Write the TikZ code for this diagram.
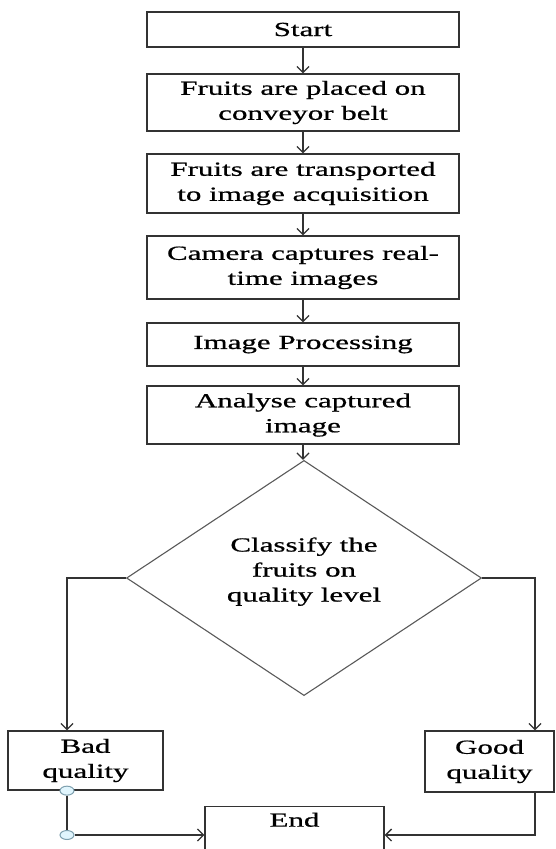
\documentclass[tikz,border=0pt]{standalone}
\usepackage{fontspec}
\setmainfont{Liberation Serif}[FakeStretch=1.55, FakeBold=0.8]
\usepackage{tikz}
\usetikzlibrary{arrows.meta,shapes.geometric}

\tikzset{
    stepbox/.style={draw=black!80, line width=1.3pt, rectangle, inner sep=0pt,
        minimum width=312pt, align=center, font=\fontsize{20}{25}\selectfont},
    decision/.style={draw=black!65, line width=1.1pt, diamond, inner sep=0pt,
        minimum width=355pt, minimum height=210pt, align=center,
        text depth=17pt, font=\fontsize{20}{25}\selectfont},
    joint/.style={draw=cyan!30!gray, fill=cyan!12, ellipse, line width=1pt,
        inner sep=0pt, minimum width=14pt, minimum height=9pt},
    arr/.style={draw=black!80, line width=1.3pt, -{Straight Barb[length=6pt,width=12pt]}},
    link/.style={draw=black!80, line width=1.3pt}
}

\begin{document}
\begin{tikzpicture}[x=1pt, y=1pt]
    \useasboundingbox (0,0) rectangle (556,-849);
    \clip (0,0) rectangle (556,-849);

    \node[stepbox, minimum height=35pt] (start) at (303,-29.5) {Start};
    \node[stepbox, minimum height=57pt] (placed) at (303,-102.5) {Fruits are placed on\\conveyor belt};
    \node[stepbox, minimum height=59pt] (transport) at (303,-183.5) {Fruits are transported\\to image acquisition};
    \node[stepbox, minimum height=63pt] (camera) at (303,-267.5) {Camera captures real-\\time images};
    \node[stepbox, minimum height=43pt] (process) at (303,-344.5) {Image Processing};
    \node[stepbox, minimum height=58pt] (analyse) at (303,-415) {Analyse captured\\image};
    \node[decision] (classify) at (304,-578) {Classify the\\fruits on\\quality level};
    \node[stepbox, minimum width=155pt, minimum height=59pt] (bad) at (85.5,-760.5) {Bad\\quality};
    \node[stepbox, minimum width=129pt, minimum height=61pt] (good) at (489.5,-761.5) {Good\\quality};
    \node[stepbox, minimum width=179pt, anchor=north, text height=20pt, text depth=45pt] (end) at (294.5,-806) {End};

    \node[joint] (b1) at ([xshift=-18.5pt]bad.south) {};
    \node[joint] (b2) at (67,-835) {};

    \draw[arr] (start) -- (placed);
    \draw[arr] (placed) -- (transport);
    \draw[arr] (transport) -- (camera);
    \draw[arr] (camera) -- (process);
    \draw[arr] (process) -- (analyse);
    \draw[arr] (analyse.south) -- (analyse.south |- classify.north);
    \draw[arr] (classify.west) -| ([xshift=-18.5pt]bad.north);
    \draw[arr] (classify.east) -| ([xshift=45.5pt]good.north);
    \draw[link] (b1) -- (b2);
    \draw[arr] (b2) -- (b2 -| end.west);
    \draw[arr] ([xshift=45.5pt]good.south) |- (b2 -| end.east);
\end{tikzpicture}
\end{document}
